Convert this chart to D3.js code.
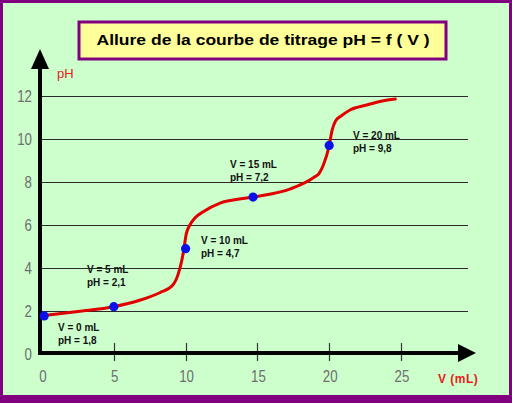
<!DOCTYPE html>
<html>
<head>
<meta charset="utf-8">
<script src="https://cdn.jsdelivr.net/npm/d3@7"></script>
<style>
  html, body { margin: 0; padding: 0; background: #800080; }
  svg { display: block; }
</style>
</head>
<body>
<svg id="chart" width="512" height="403"></svg>
<script>
// titration curve
var curveV  = [0, 2.5, 5, 6.8, 8.2, 9.1, 9.5, 9.7, 9.85, 10.05, 10.3, 10.65, 11.2, 12.4, 14.7, 17.3, 18.9, 19.3, 19.6, 20.0, 20.2, 20.45, 20.85, 21.45, 22.6, 23.7, 24.6];
var curvePH = [1.78, 1.98, 2.2, 2.5, 2.85, 3.2, 3.75, 4.25, 4.75, 5.6, 6.0, 6.33, 6.6, 7.02, 7.3, 7.68, 8.2, 8.4, 8.8, 9.7, 10.4, 10.85, 11.08, 11.35, 11.58, 11.77, 11.86];

// marked points and their notes
var markV  = [0.15, 5, 10, 14.7, 20];
var markPH = [1.77, 2.2, 4.9, 7.3, 9.7];
var markLabels = [
  ["V = 0 mL", "pH = 1,8"],
  ["V = 5 mL", "pH = 2,1"],
  ["V = 10 mL", "pH = 4,7"],
  ["V = 15 mL", "pH = 7,2"],
  ["V = 20 mL", "pH = 9,8"]
];

var xTicks = [0, 5, 10, 15, 20, 25];
var yTicks = [0, 2, 4, 6, 8, 10, 12];

var titleText = "Allure de la courbe de titrage pH = f ( V )";

var svg = d3.select("#chart");

var x = d3.scaleLinear().domain([0, 25]).range([42, 401]);
var y = d3.scaleLinear().domain([0, 12]).range([354, 96]);

// frame + background
svg.append("rect").attr("width", 512).attr("height", 403).attr("fill", "#800080");
svg.append("rect")
  .attr("x", 3).attr("y", 3)
  .attr("width", 506).attr("height", 392)
  .attr("fill", "#ccffcc");

// title box
svg.append("rect")
  .attr("x", 79).attr("y", 22)
  .attr("width", 367).attr("height", 37)
  .attr("fill", "#ffff99")
  .attr("stroke", "#800080")
  .attr("stroke-width", 3);

svg.append("text")
  .attr("x", 263).attr("y", 45)
  .attr("text-anchor", "middle")
  .attr("textLength", 333)
  .attr("lengthAdjust", "spacingAndGlyphs")
  .style("font-family", "'Liberation Sans', Arial, sans-serif")
  .style("font-weight", "bold")
  .style("font-size", "14px")
  .attr("fill", "#000")
  .text(titleText);

// horizontal grid lines
svg.append("g")
  .selectAll("line")
  .data(yTicks.filter(function(d) { return d > 0; }))
  .join("line")
  .attr("x1", 40).attr("x2", 468)
  .attr("y1", function(d) { return Math.round(y(d)) + 0.5; })
  .attr("y2", function(d) { return Math.round(y(d)) + 0.5; })
  .attr("stroke", "#2a2a2a")
  .attr("stroke-width", 1);

// tick labels are thin and narrow in the original
function tickText(sel) {
  sel.style("font-family", "'Liberation Sans', Arial, sans-serif")
    .style("font-size", "17px")
    .attr("textLength", function(d) { return String(d).length * 7.4; })
    .attr("lengthAdjust", "spacingAndGlyphs")
    .attr("fill", "#6e6e6e")
    .text(function(d) { return d; });
}

// y tick labels
svg.append("g")
  .selectAll("text")
  .data(yTicks)
  .join("text")
  .attr("x", 32)
  .attr("y", function(d) { return y(d); })
  .attr("dy", "0.36em")
  .attr("text-anchor", "end")
  .call(tickText);

// x tick marks (none at 0) and labels
svg.append("g")
  .selectAll("line")
  .data(xTicks.filter(function(d) { return d > 0; }))
  .join("line")
  .attr("x1", function(d) { return Math.round(x(d)) + 0.5; })
  .attr("x2", function(d) { return Math.round(x(d)) + 0.5; })
  .attr("y1", 343).attr("y2", 361)
  .attr("stroke", "#333")
  .attr("stroke-width", 1.2);

svg.append("g")
  .selectAll("text")
  .data(xTicks)
  .join("text")
  .attr("x", function(d) { return x(d) + 1; })
  .attr("y", 382)
  .attr("text-anchor", "middle")
  .call(tickText);

// axes with arrow heads
svg.append("line")
  .attr("x1", 40).attr("x2", 40)
  .attr("y1", 355).attr("y2", 64)
  .attr("stroke", "#000").attr("stroke-width", 4);
svg.append("path")
  .attr("d", "M40,49 L31,69 L49,69 Z")
  .attr("fill", "#000");

svg.append("line")
  .attr("x1", 38).attr("x2", 462)
  .attr("y1", 353).attr("y2", 353)
  .attr("stroke", "#000").attr("stroke-width", 4);
svg.append("path")
  .attr("d", "M476,353 L458,344 L458,362 Z")
  .attr("fill", "#000");

// axis names
svg.append("text")
  .attr("x", 57).attr("y", 78)
  .style("font-family", "'Liberation Sans', Arial, sans-serif")
  .style("font-size", "13px")
  .attr("fill", "#e8201c")
  .text("pH");

svg.append("text")
  .attr("x", 438).attr("y", 383)
  .style("font-family", "'Liberation Sans', Arial, sans-serif")
  .style("font-size", "12px")
  .style("font-weight", "bold")
  .style("letter-spacing", "0.5px")
  .attr("fill", "#e8201c")
  .text("V  (mL)");

// the curve
var pts = curveV.map(function(v, i) { return [v, curvePH[i]]; });
var line = d3.line()
  .x(function(d) { return x(d[0]); })
  .y(function(d) { return y(d[1]); })
  .curve(d3.curveMonotoneX);

svg.append("path")
  .datum(pts)
  .attr("d", line)
  .attr("fill", "none")
  .attr("stroke", "#e00000")
  .attr("stroke-width", 3)
  .attr("stroke-linecap", "round");

// marked points
var marks = markV.map(function(v, i) { return { v: v, ph: markPH[i] }; });
svg.append("g")
  .selectAll("circle")
  .data(marks)
  .join("circle")
  .attr("cx", function(d) { return x(d.v); })
  .attr("cy", function(d) { return y(d.ph); })
  .attr("r", 4.6)
  .attr("fill", "#0a10e8");

// notes next to the points
var notePos = [[58, 331], [87, 273], [201, 244], [230, 168], [353, 139]];
var notes = svg.append("g")
  .style("font-family", "'Liberation Sans', Arial, sans-serif")
  .style("font-size", "10px")
  .style("font-weight", "bold")
  .attr("fill", "#111");

markLabels.forEach(function(lines, i) {
  notes.append("text")
    .attr("x", notePos[i][0]).attr("y", notePos[i][1])
    .text(lines[0]);
  notes.append("text")
    .attr("x", notePos[i][0]).attr("y", notePos[i][1] + 12.5)
    .text(lines[1]);
});
</script>
</body>
</html>
